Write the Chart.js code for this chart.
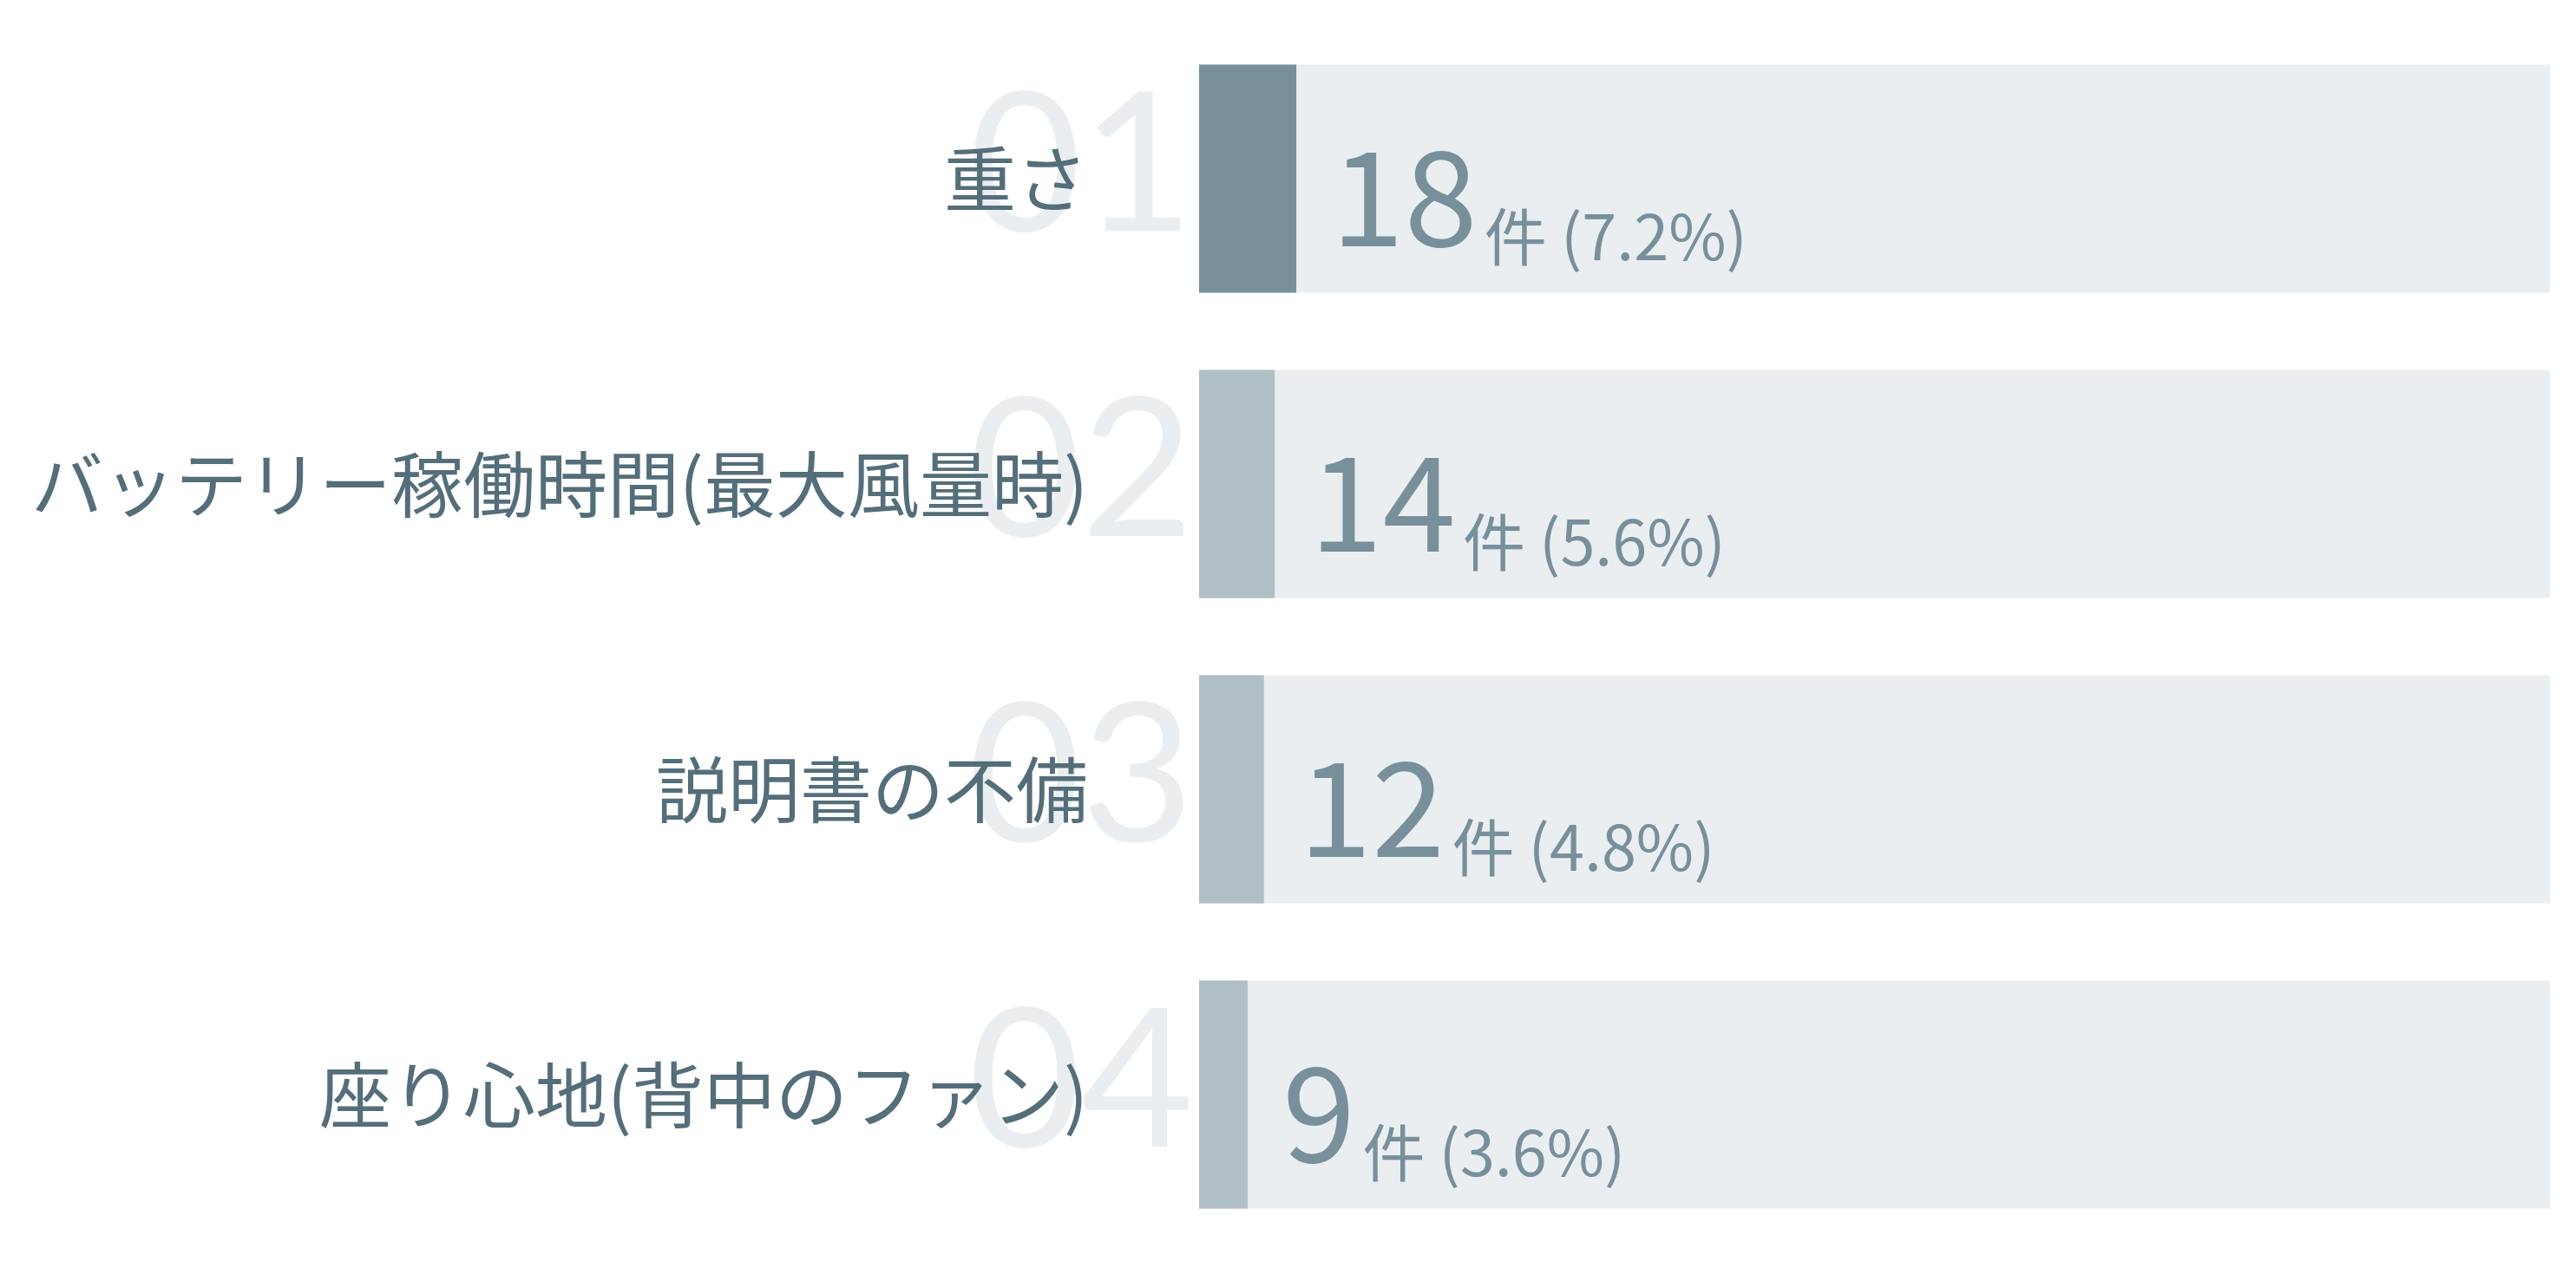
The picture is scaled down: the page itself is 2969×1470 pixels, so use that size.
<!DOCTYPE html>
<html>
<head>
<meta charset="utf-8">
<script src="https://cdn.jsdelivr.net/npm/chart.js@4.4.1/dist/chart.umd.min.js"></script>
<style>
  html, body { margin: 0; padding: 0; background: #ffffff; }
  #wrap { width: 2969px; height: 1470px; }
</style>
</head>
<body>
<div id="wrap"><canvas id="c" width="2969" height="1470"></canvas></div>
<script>
// ---- data ----
const categories = ['重さ', 'バッテリー稼働時間(最大風量時)', '説明書の不備', '座り心地(背中のファン)'];
const counts = [18, 14, 12, 9];
const shares = [7.2, 5.6, 4.8, 3.6];
const ranks = ['01', '02', '03', '04'];
const TOTAL = 250;
const unitLabel = '件';

// ---- styles ----
const barColors = ['#78909c', '#b0bec5', '#b0bec5', '#b0bec5'];
const trackColor = '#eaeef1';
const labelColor = '#546e7a';
const valueColor = '#78909c';
const ghostColor = '#eaeef1';
const JP = "'Noto Sans CJK JP', 'Noto Sans', sans-serif";

const ghostPlugin = {
  id: 'ghostRanks',
  beforeDraw(chart) {
    const ctx = chart.ctx;
    const meta = chart.getDatasetMeta(0);
    const left = chart.chartArea.left;
    ctx.save();
    ctx.font = "400 224px Lato, 'Noto Sans', sans-serif";
    ctx.fillStyle = ghostColor;
    ctx.textAlign = 'right';
    ctx.textBaseline = 'alphabetic';
    meta.data.forEach((bar, i) => {
      ctx.fillText(ranks[i], left - 6, bar.y + 60);
    });
    ctx.restore();
  }
};

const valuePlugin = {
  id: 'valueLabels',
  afterDatasetsDraw(chart) {
    const ctx = chart.ctx;
    const meta = chart.getDatasetMeta(0);
    ctx.save();
    ctx.textAlign = 'left';
    ctx.textBaseline = 'alphabetic';
    ctx.fillStyle = valueColor;
    meta.data.forEach((bar, i) => {
      const x0 = bar.x + 40;
      ctx.font = '400 152px ' + JP;
      const big = String(counts[i]);
      ctx.fillText(big, x0, bar.y + 78);
      const w = ctx.measureText(big).width;
      ctx.font = '400 72px ' + JP;
      ctx.fillText(unitLabel + ' (' + shares[i].toFixed(1) + '%)', x0 + w + 8, bar.y + 94);
    });
    ctx.restore();
  }
};

new Chart(document.getElementById('c'), {
  type: 'bar',
  data: {
    labels: categories,
    datasets: [
      {
        label: 'count',
        data: counts,
        backgroundColor: barColors,
        grouped: false,
        order: 1,
        barPercentage: 1,
        categoryPercentage: 0.747,
        borderWidth: 0
      },
      {
        label: 'total',
        data: categories.map(() => TOTAL),
        backgroundColor: trackColor,
        grouped: false,
        order: 2,
        barPercentage: 1,
        categoryPercentage: 0.747,
        borderWidth: 0
      }
    ]
  },
  options: {
    indexAxis: 'y',
    responsive: false,
    animation: false,
    devicePixelRatio: 1,
    layout: { padding: { top: 30, bottom: 32, left: 0, right: 30 } },
    plugins: { legend: { display: false }, tooltip: { enabled: false } },
    scales: {
      x: { display: false, min: 0, max: TOTAL },
      y: {
        afterFit(scale) {
          scale.width = 1382;
          scale.paddingTop = 0;
          scale.paddingBottom = 0;
        },
        grid: { display: false, drawTicks: false, tickLength: 0 },
        border: { display: false },
        ticks: {
          color: labelColor,
          padding: 128,
          font: { family: JP, size: 83, weight: '400' }
        }
      }
    }
  },
  plugins: [ghostPlugin, valuePlugin]
});
</script>
</body>
</html>
